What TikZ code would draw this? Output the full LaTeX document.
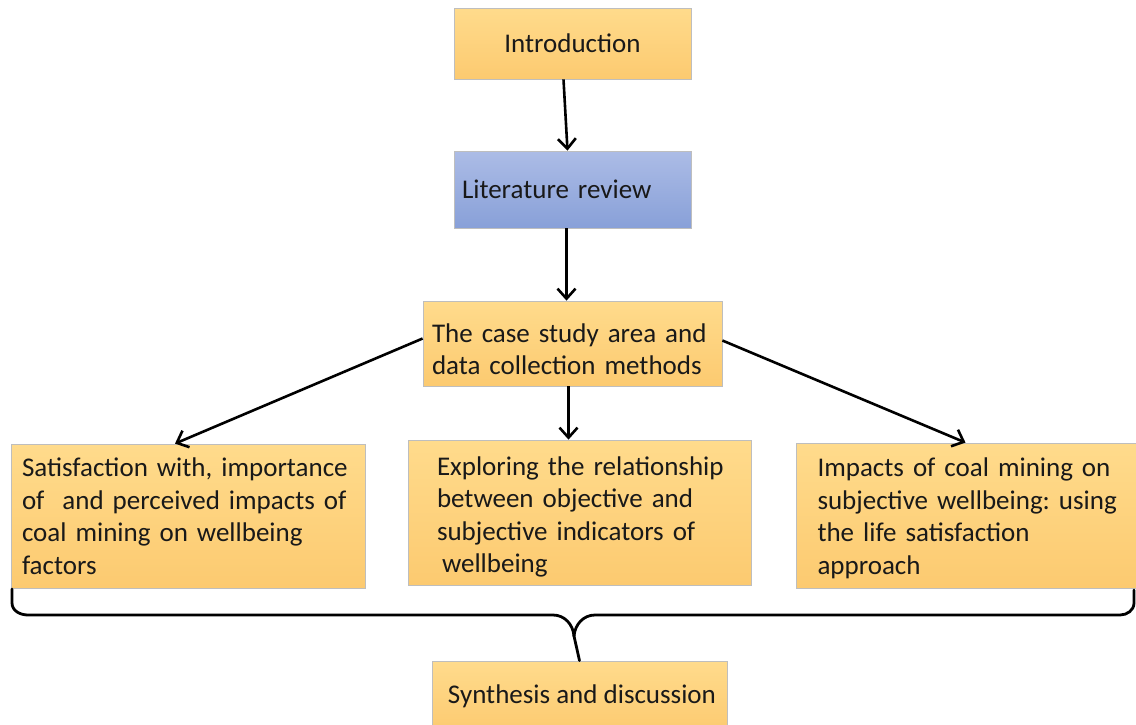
\documentclass[tikz,border=0pt]{standalone}
\usepackage{fontspec}
\setmainfont{Carlito}
\usetikzlibrary{arrows.meta,calc}
\definecolor{boxtop}{RGB}{255,219,140}
\definecolor{boxbot}{RGB}{252,202,112}
\definecolor{littop}{RGB}{172,188,230}
\definecolor{litbot}{RGB}{136,160,216}
\definecolor{boxline}{RGB}{190,190,190}
\tikzset{
  ybox/.style={draw=boxline, line width=0.8pt, top color=boxtop, bottom color=boxbot,
    inner sep=0pt, font=\fontsize{27}{32.5}\selectfont\frenchspacing, text=black!90},
  bbox/.style={draw=boxline, line width=0.8pt, top color=littop, bottom color=litbot,
    inner sep=0pt, font=\fontsize{27}{32.5}\selectfont\frenchspacing, text=black!90},
  conn/.style={line width=2.6pt, -{Straight Barb[length=10pt,width=18pt,line width=2.6pt]}},
  bracepath/.style={line width=2.8pt, line cap=round, line join=round}
}
\newcommand{\fstrut}[1]{\rule{0pt}{#1}}
\begin{document}
\begin{tikzpicture}[x=1pt,y=-1pt]
\useasboundingbox (0,0) rectangle (1136,724);
\begin{scope}
\clip (0,0) rectangle (1136,724);
% boxes
\node[ybox, minimum width=237pt, minimum height=71pt] (intro) at (572.5,43.5) {Introduction};
\node[bbox, minimum width=237pt, minimum height=77pt, text width=221pt, align=left] (lit) at (572.5,189.5) {Literature review};
\node[ybox, minimum width=299pt, minimum height=85pt, text width=281pt, align=left] (case) at (572.5,343.5) {\mbox{\fstrut{30pt}The case study area and}\\\mbox{data collection methods}};
\node[ybox, minimum width=354pt, minimum height=144pt, text width=332pt, align=left] (left) at (188,516) {\mbox{Satisfaction with, importance}\\\mbox{of~ and perceived impacts of}\\\mbox{coal mining on wellbeing}\\factors};
\node[ybox, minimum width=343pt, minimum height=145pt, text width=285pt, align=left] (mid) at (579.5,512.5) {\mbox{\fstrut{28pt}Exploring the relationship}\\\mbox{between objective and}\\\mbox{subjective indicators of}\\\mbox{\hspace{5pt}wellbeing}};
\node[ybox, minimum width=341pt, minimum height=145pt, text width=298pt, align=left] (right) at (966.5,515.5) {\mbox{\fstrut{24pt}Impacts of coal mining on}\\\mbox{subjective wellbeing: using}\\\mbox{the life satisfaction}\\\mbox{approach}};
\node[ybox, minimum width=295pt, minimum height=72pt] (synth) at (579.5,697) {};
\node[font=\fontsize{27}{32.5}\selectfont, text=black!90, inner sep=0pt, anchor=base] (synthtxt) at (582,703) {Synthesis and discussion};
% brace
\coordinate (bl) at (12,589);
\coordinate (br) at (1134,590);
\coordinate (btip) at (574,636);
\draw[bracepath] (bl) -- (12,603) to[out=270,in=180] (28,615) -- (553,615) to[out=0,in=95] (btip);
\draw[bracepath] (br) -- (1134,603) to[out=270,in=0] (1120,615) -- (595,615) to[out=180,in=85] (btip);
\draw[bracepath] (btip) -- (synth.north);
\end{scope}
% connectors
\draw[conn] ([xshift=-9pt]intro.south) -- ([xshift=-5pt]lit.north);
\draw[conn] ([xshift=-6pt]lit.south) -- ([xshift=-6pt]case.north);
\draw[conn] ([xshift=-4pt]case.south) -- ([xshift=-11pt]mid.north);
\draw[conn] ([yshift=5pt]case.west) -- ([xshift=-13pt]left.north);
\draw[conn] ([yshift=3pt]case.east) -- ([xshift=-1pt]right.north);
\end{tikzpicture}
\end{document}
